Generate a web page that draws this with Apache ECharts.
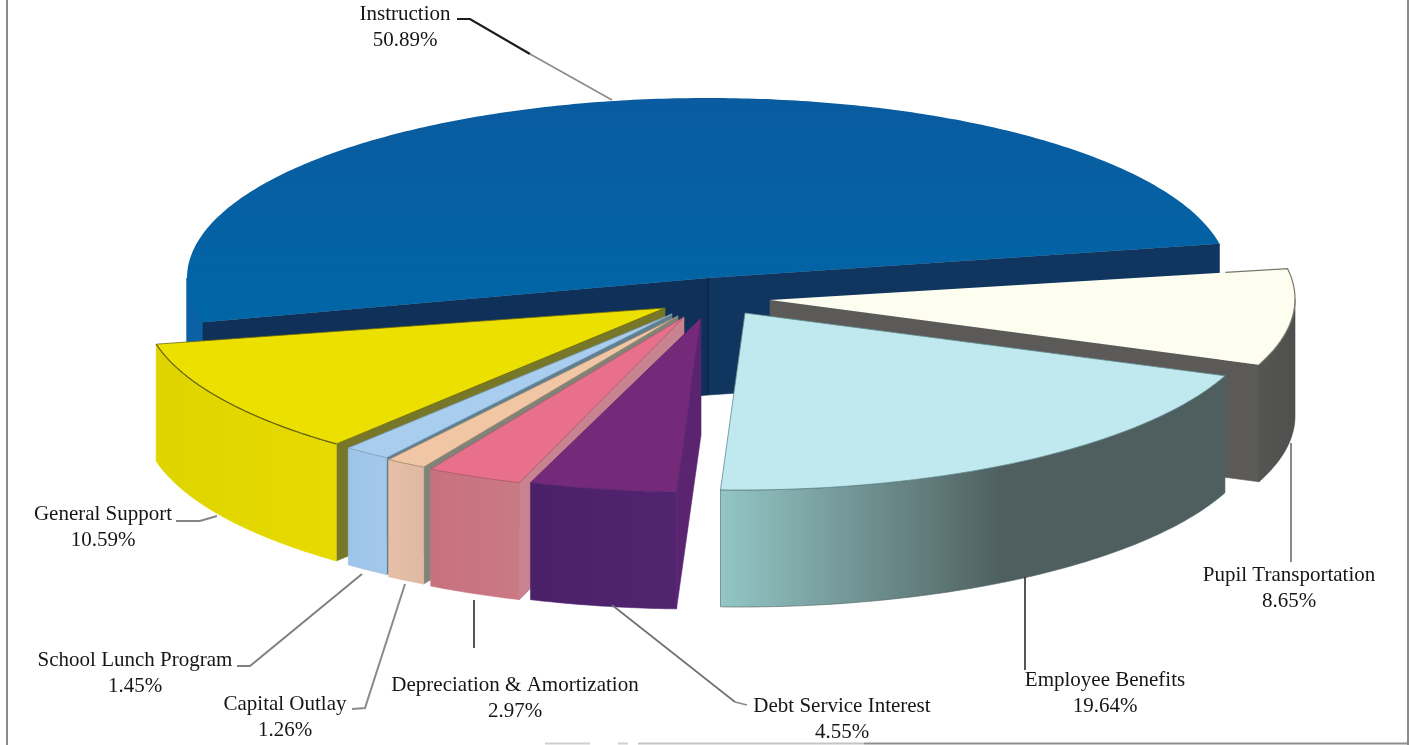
<!DOCTYPE html>
<html>
<head>
<meta charset="utf-8">
<style>html,body{margin:0;padding:0;background:#fff}#chart{width:1410px;height:745px}</style>
<script src="https://cdn.jsdelivr.net/npm/echarts@6/dist/echarts.min.js"></script>
</head>
<body>
<div id="chart"></div>
<script>
// Budget shares, in sweep order starting with the back slice.
const categories = ['Instruction', 'Pupil Transportation', 'Employee Benefits', 'Debt Service Interest',
  'Depreciation & Amortization', 'Capital Outlay', 'School Lunch Program', 'General Support'];
const shares = [50.89, 8.65, 19.64, 4.55, 2.97, 1.26, 1.45, 10.59];

// Slice look: top face, radial wall, outer wall (left and right stops of the rim shading).
const topColors = ['#0a5ea3', '#fdfdf0', '#bfe9ee', '#742a78', '#e8708a', '#f0c6a4', '#a9cdee', '#ece000'];
const wallColors = ['#10365f', '#5c5a58', '#4f6062', '#5b2470', '#c98390', '#7f8378', '#5f7f90', '#77772a'];
const rimColorsL = ['#0a62a4', '#555553', '#93c6c6', '#4a2068', '#c9707f', '#e6bfa6', '#9cc4ea', '#e0d400'];
const rimColorsR = ['#0a62a4', '#4f4f4d', '#4f5f5f', '#522470', '#c97a84', '#dfb9a2', '#a4c8ea', '#e6da00'];
const edgeColors = ['#0a5ea3', '#6e6e68', '#5f8a8e', '#5b2470', '#a85a6c', '#a08a70', '#7f9fbc', '#6f6a10'];

// Exploded-view offsets of each slice: rim shift and apex shift from the pie centre.
const rimShift = [[0, 0], [66, 21], [32, 32], [-12, 34], [-23, 34], [-30, 32], [-32, 30], [-44, 26]];
const apexShift = [[0, 0], [62, 22], [37, 35], [-7, 40], [-24, 39], [-30, 38], [-36, 36], [-43, 30]];
// Paint order, back to front.
const paintOrder = [0, 1, 2, 7, 6, 5, 4, 3];

// Label blocks: centre x, first-line y, and the leader polylines with their strokes.
const labelCentres = [[405, 14], [1289, 575], [1105, 680], [842, 706], [515, 685], [285, 704], [135, 660], [103, 514]];
const leaderPaths = [
  [[[457, 19], [470, 19], [530, 54]], [[530, 54], [612, 100]]],
  [[[1291, 443], [1291, 562]]],
  [[[1025, 577], [1025, 670]]],
  [[[612, 605], [735, 702]], [[735, 702], [747, 705]]],
  [[[474, 600], [474, 648]]],
  [[[352, 709], [365, 708], [405, 584]]],
  [[[237, 666], [250, 666], [362, 574]]],
  [[[176, 521], [200, 521], [217, 516]]]
];
const leaderColors = [['#1c1c1c', '#8a8a8a'], ['#6b6b6b'], ['#2b2b2b'], ['#707070', '#8a8a8a'], ['#2b2b2b'], ['#8a8a8a'], ['#808080'], ['#858585']];

// Pie geometry on the page.
const CX = 708, CY = 278, RX = 521, RY = 180, DEPTH = 117;
const START_BACK = 11;   // start of the back slice, degrees above the +x axis
const START_FRONT = 9.7; // start of the pulled-out slices
const FONT = '"Liberation Serif", "Times New Roman", serif';

const rad = d => d * Math.PI / 180;
const sweep = v => v / shares.reduce((a, b) => a + b, 0) * 360;

// Angular range [from, to] of a slice; the back slice runs counter-clockwise over the top,
// all others run clockwise from the end of the previous one.
function sliceRange(i) {
  if (i === 0) return [START_BACK, START_BACK + sweep(shares[0])];
  let a = START_FRONT;
  for (let k = 1; k < i; k++) a -= sweep(shares[k]);
  return [a, a - sweep(shares[i])];
}
function rimPoint(i, deg) {
  return [CX + rimShift[i][0] + RX * Math.cos(rad(deg)), CY + rimShift[i][1] - RY * Math.sin(rad(deg))];
}
function arc(i, from, to) {
  const n = Math.max(2, Math.ceil(Math.abs(to - from) * 1.5)), pts = [];
  for (let s = 0; s <= n; s++) pts.push(rimPoint(i, from + (to - from) * s / n));
  return pts;
}
const down = pts => pts.map(p => [p[0], p[1] + DEPTH]);
const radialWall = (apex, end, fill) => ({
  type: 'polygon',
  shape: { points: [apex, end, [end[0], end[1] + DEPTH], [apex[0], apex[1] + DEPTH]] },
  style: { fill, stroke: fill, lineWidth: 0.6 }
});

// A radial wall shows when the slice's other rim corner lies above the line of that edge.
function wallFacesViewer(apex, end, other) {
  if (Math.abs(end[0] - apex[0]) < 1e-6) return false;
  const lineY = apex[1] + (other[0] - apex[0]) * (end[1] - apex[1]) / (end[0] - apex[0]);
  return other[1] < lineY;
}

// Outer wall for the part of the rim that faces the viewer.
function outerWall(i, from, to) {
  let lo = Math.min(from, to), hi = Math.max(from, to);
  if (i === 0) lo = 180;
  else hi = Math.min(hi, 0);
  if (hi <= lo) return [];
  const top = arc(i, hi, lo), xs = top.map(p => p[0]);
  const x0 = Math.min(...xs), x1 = Math.max(...xs);
  return [{
    type: 'polygon', shape: { points: top.concat(down(top).reverse()) },
    style: {
      fill: new echarts.graphic.LinearGradient(x0, 0, x1, 0, [
        { offset: 0, color: rimColorsL[i] },
        { offset: i === 2 ? 0.56 : 1, color: rimColorsR[i] },
        { offset: 1, color: rimColorsR[i] }
      ], true),
      stroke: rimColorsR[i], lineWidth: i === 0 ? 1.4 : 0.6
    }
  }];
}

function sliceShapes(i) {
  const [from, to] = sliceRange(i);
  const apex = [CX + apexShift[i][0], CY + apexShift[i][1]];
  const rim = arc(i, from, to);
  const first = rim[0], last = rim[rim.length - 1];
  const parts = [];
  if (i === 0) {
    // The back slice's blue outer wall goes first, its dark inner faces over it.
    parts.push(...outerWall(i, from, to));
    parts.push(radialWall(apex, first, wallColors[0]));
    parts.push(radialWall(apex, last, '#0e3059'));
    parts.push({
      type: 'line',
      shape: { x1: apex[0], y1: apex[1], x2: apex[0], y2: apex[1] + DEPTH },
      style: { stroke: '#0a2547', lineWidth: 1 }
    });
  } else {
    if (wallFacesViewer(apex, first, last)) parts.push(radialWall(apex, first, wallColors[i]));
    if (wallFacesViewer(apex, last, first)) parts.push(radialWall(apex, last, wallColors[i]));
    parts.push(...outerWall(i, from, to));
  }
  const topFill = i === 0
    ? new echarts.graphic.LinearGradient(0, CY - RY, 0, CY + 45, [
        { offset: 0, color: '#0a5ba0' }, { offset: 1, color: '#0066a6' }], true)
    : topColors[i];
  parts.push({
    type: 'polygon', shape: { points: [apex].concat(rim) },
    style: { fill: topFill, stroke: i < 2 ? 'transparent' : edgeColors[i], lineWidth: 0.8, lineJoin: 'round' }
  });
  if (i === 1) {
    // Thin outline along the pale slice's far corner and curved rim.
    const t = 0.88;
    parts.push({
      type: 'polyline',
      shape: { points: [[apex[0] + (first[0] - apex[0]) * t, apex[1] + (first[1] - apex[1]) * t]].concat(rim) },
      style: { stroke: '#77776e', fill: null, lineWidth: 1.2 }
    });
  }
  if (i === 7) {
    parts.push({ type: 'polyline', shape: { points: rim }, style: { stroke: edgeColors[7], fill: null, lineWidth: 1.2 } });
  }
  return parts;
}

function labelShapes(i) {
  const [cx, y] = labelCentres[i];
  const shapes = [{
    type: 'text', z2: 20,
    style: {
      text: categories[i] + '\n' + shares[i].toFixed(2) + '%',
      x: cx, y: y - 12, align: 'center', verticalAlign: 'top',
      font: '21px ' + FONT, lineHeight: 25.5, fill: '#161616'
    }
  }];
  leaderPaths[i].forEach((points, k) => shapes.push({
    type: 'polyline', z2: 15, shape: { points },
    style: { stroke: leaderColors[i][k], fill: null, lineWidth: (i === 0 && k === 0) ? 2.2 : (i === 5 || i === 6 || i === 7) ? 2 : 1.6 }
  }));
  return shapes;
}

const frameLine = (x1, y1, x2, y2, stroke, lineWidth) => ({
  type: 'line', shape: { x1, y1, x2, y2 }, style: { stroke, lineWidth }
});

const chart = echarts.init(document.getElementById('chart'), null, { renderer: 'canvas' });
chart.setOption({
  animation: false,
  backgroundColor: '#ffffff',
  graphic: [
    frameLine(7, 0, 7, 745, '#8a8a8a', 2),
    frameLine(1408, 0, 1408, 745, '#8a8a8a', 2),
    frameLine(545, 743.5, 590, 743.5, '#cfcfcf', 2),
    frameLine(618, 743.5, 628, 743.5, '#cfcfcf', 2),
    frameLine(638, 743.5, 864, 743.5, '#c4c4c4', 2),
    frameLine(864, 743.5, 1408, 743.5, '#8e8e8e', 2)
  ],
  series: [{
    type: 'custom',
    coordinateSystem: 'none',
    silent: true,
    clip: false,
    data: paintOrder.map(i => ({ value: [i, shares[i]], name: categories[i] })),
    renderItem: (params, api) => ({
      type: 'group',
      children: sliceShapes(api.value(0)).concat(labelShapes(api.value(0)))
    })
  }]
});
</script>
</body>
</html>
